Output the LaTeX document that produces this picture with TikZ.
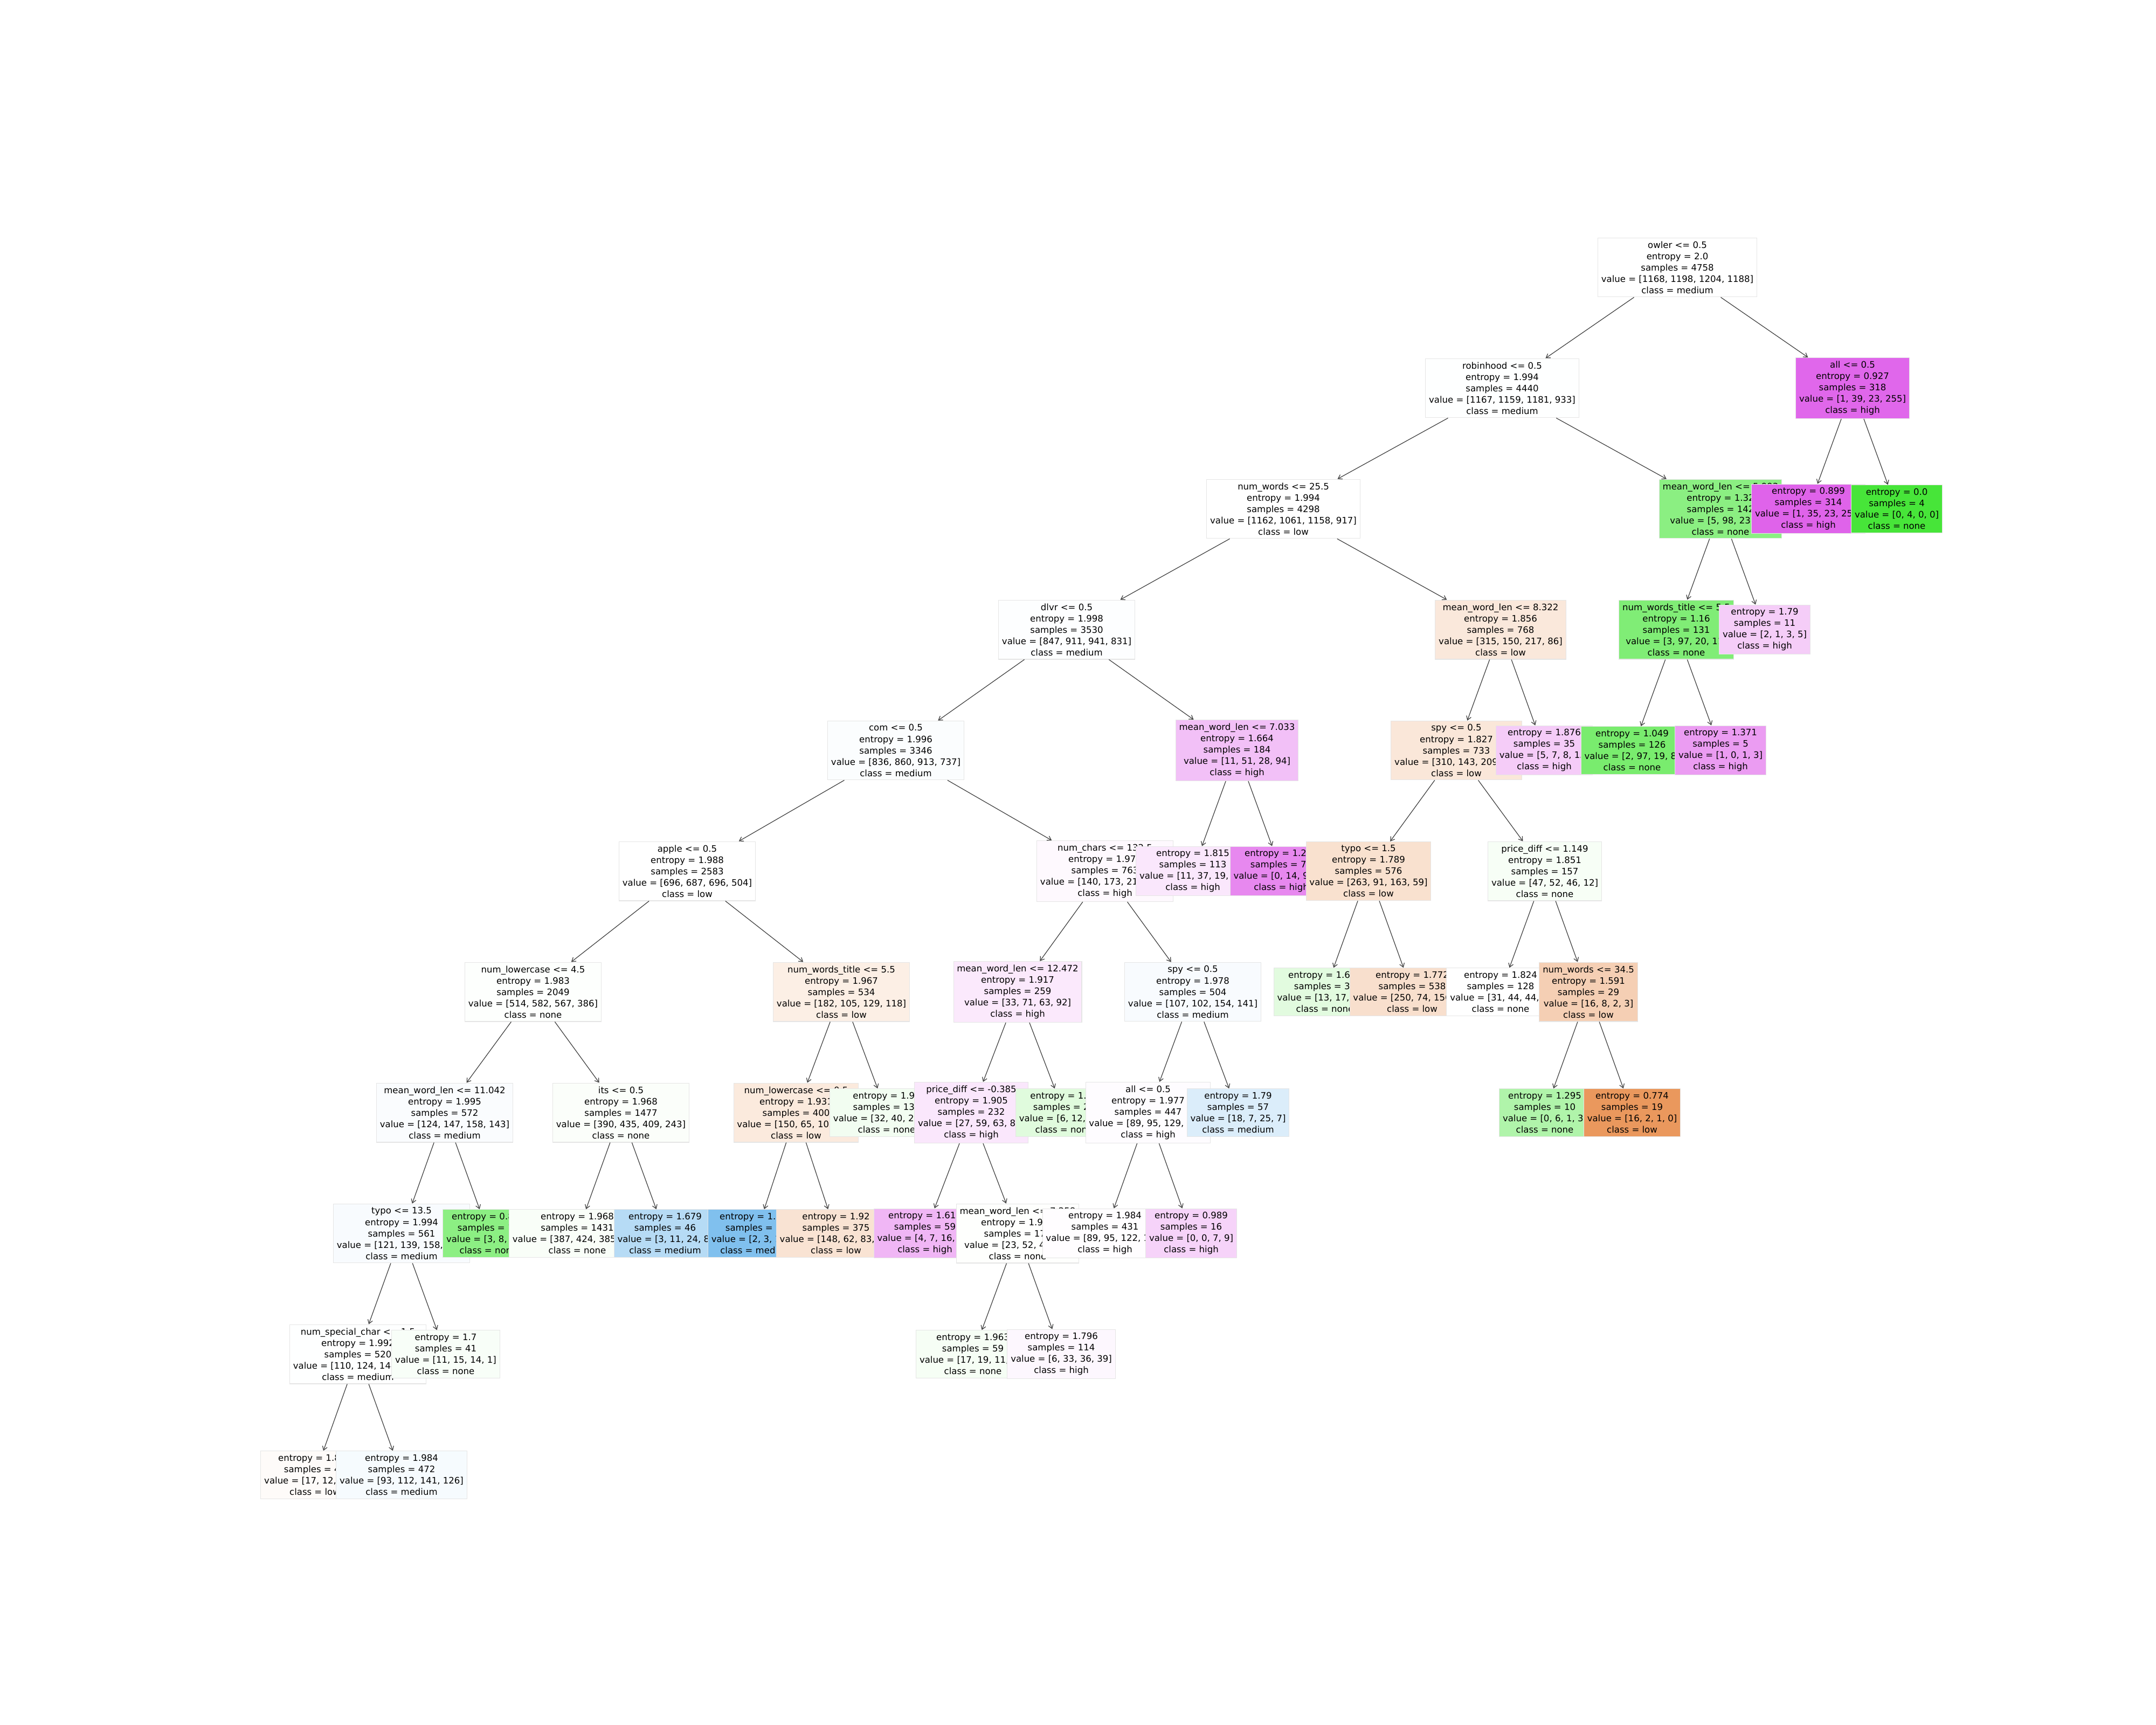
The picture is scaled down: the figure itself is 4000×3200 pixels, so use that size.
\documentclass[tikz,border=0pt]{standalone}
\usepackage{fontspec}
\setmainfont{DejaVu Sans}
\usepackage{xcolor}
\definecolor{lowc}{RGB}{229,129,57}
\definecolor{nonec}{RGB}{71,229,57}
\definecolor{medc}{RGB}{57,157,229}
\definecolor{highc}{RGB}{215,57,229}
\usepackage{tikz}
\usetikzlibrary{arrows.meta}

\newcommand{\treefont}{\fontsize{4.7pt}{5.98pt}\selectfont}

\tikzset{
  treebox/.style={draw=black!10, line width=0.3pt, inner xsep=1.8pt, inner ysep=1.85pt,
                  align=center, font=\treefont},
  treearrow/.style={black!75, line width=0.35pt, -{Straight Barb[length=2pt,width=2.6pt]}}
}

\begin{document}
\begin{tikzpicture}[x=0.01cm, y=-0.01cm]
\useasboundingbox (0,0) rectangle (4000,3200);

% --- depth 0 ---
\node[treebox, fill=medc!0] (owler) at (3112,496) {owler <= 0.5\\entropy = 2.0\\samples = 4758\\value = [1168, 1198, 1204, 1188]\\class = medium};

% --- depth 1 ---
\node[treebox, fill=medc!0.4] (robinhood) at (2787,720) {robinhood <= 0.5\\entropy = 1.994\\samples = 4440\\value = [1167, 1159, 1181, 933]\\class = medium};
\node[treebox, fill=highc!77] (allA) at (3437,720) {all <= 0.5\\entropy = 0.927\\samples = 318\\value = [1, 39, 23, 255]\\class = high};
\draw[treearrow] (owler) -- (robinhood);
\draw[treearrow] (owler) -- (allA);

% --- depth 2 ---
\node[treebox, fill=lowc!0.1] (numwordsA) at (2381,944) {num\_words <= 25.5\\entropy = 1.994\\samples = 4298\\value = [1162, 1061, 1158, 917]\\class = low};
\node[treebox, fill=nonec!63] (meanlenA) at (3192,944) {mean\_word\_len <= 5.993\\entropy = 1.32\\samples = 142\\value = [5, 98, 23, 16]\\class = none};
\node[treebox, fill=highc!79] (leafA) at (3355,944) {entropy = 0.899\\samples = 314\\value = [1, 35, 23, 255]\\class = high};
\node[treebox, fill=nonec!100] (leafB) at (3519,944) {entropy = 0.0\\samples = 4\\value = [0, 4, 0, 0]\\class = none};
\draw[treearrow] (robinhood) -- (numwordsA);
\draw[treearrow] (robinhood) -- (meanlenA);
\draw[treearrow] (allA) -- (leafA);
\draw[treearrow] (allA) -- (leafB);

% --- depth 3 ---
\node[treebox, fill=medc!1.1] (dlvr) at (1979,1168) {dlvr <= 0.5\\entropy = 1.998\\samples = 3530\\value = [847, 911, 941, 831]\\class = medium};
\node[treebox, fill=lowc!18] (meanlenB) at (2784,1168) {mean\_word\_len <= 8.322\\entropy = 1.856\\samples = 768\\value = [315, 150, 217, 86]\\class = low};
\node[treebox, fill=nonec!69] (titleA) at (3110,1168) {num\_words\_title <= 5.5\\entropy = 1.16\\samples = 131\\value = [3, 97, 20, 11]\\class = none};
\node[treebox, fill=highc!25] (leafC) at (3274,1168) {entropy = 1.79\\samples = 11\\value = [2, 1, 3, 5]\\class = high};
\draw[treearrow] (numwordsA) -- (dlvr);
\draw[treearrow] (numwordsA) -- (meanlenB);
\draw[treearrow] (meanlenA) -- (titleA);
\draw[treearrow] (meanlenA) -- (leafC);

% --- depth 4 ---
\node[treebox, fill=medc!2.1] (com) at (1662,1392) {com <= 0.5\\entropy = 1.996\\samples = 3346\\value = [836, 860, 913, 737]\\class = medium};
\node[treebox, fill=highc!32] (meanlenC) at (2295,1392) {mean\_word\_len <= 7.033\\entropy = 1.664\\samples = 184\\value = [11, 51, 28, 94]\\class = high};
\node[treebox, fill=lowc!19] (spyA) at (2702,1392) {spy <= 0.5\\entropy = 1.827\\samples = 733\\value = [310, 143, 209, 71]\\class = low};
\node[treebox, fill=highc!26] (leafD) at (2865,1392) {entropy = 1.876\\samples = 35\\value = [5, 7, 8, 15]\\class = high};
\node[treebox, fill=nonec!73] (leafE) at (3028,1392) {entropy = 1.049\\samples = 126\\value = [2, 97, 19, 8]\\class = none};
\node[treebox, fill=highc!50] (leafF) at (3192,1392) {entropy = 1.371\\samples = 5\\value = [1, 0, 1, 3]\\class = high};
\draw[treearrow] (dlvr) -- (com);
\draw[treearrow] (dlvr) -- (meanlenC);
\draw[treearrow] (meanlenB) -- (spyA);
\draw[treearrow] (meanlenB) -- (leafD);
\draw[treearrow] (titleA) -- (leafE);
\draw[treearrow] (titleA) -- (leafF);

% --- depth 5 ---
\node[treebox, fill=lowc!0] (apple) at (1275,1616) {apple <= 0.5\\entropy = 1.988\\samples = 2583\\value = [696, 687, 696, 504]\\class = low};
\node[treebox, fill=highc!2.9] (numchars) at (2050,1616) {num\_chars <= 132.5\\entropy = 1.973\\samples = 763\\value = [140, 173, 217, 233]\\class = high};
\node[treebox, fill=highc!12] (leafG) at (2213,1616) {entropy = 1.815\\samples = 113\\value = [11, 37, 19, 46]\\class = high};
\node[treebox, fill=highc!60] (leafH) at (2377,1616) {entropy = 1.221\\samples = 71\\value = [0, 14, 9, 48]\\class = high};
\node[treebox, fill=lowc!24] (typoA) at (2539,1616) {typo <= 1.5\\entropy = 1.789\\samples = 576\\value = [263, 91, 163, 59]\\class = low};
\node[treebox, fill=nonec!4.5] (priceA) at (2866,1616) {price\_diff <= 1.149\\entropy = 1.851\\samples = 157\\value = [47, 52, 46, 12]\\class = none};
\draw[treearrow] (com) -- (apple);
\draw[treearrow] (com) -- (numchars);
\draw[treearrow] (meanlenC) -- (leafG);
\draw[treearrow] (meanlenC) -- (leafH);
\draw[treearrow] (spyA) -- (typoA);
\draw[treearrow] (spyA) -- (priceA);

% --- depth 6 ---
\node[treebox, fill=nonec!1] (lowerA) at (989,1840) {num\_lowercase <= 4.5\\entropy = 1.983\\samples = 2049\\value = [514, 582, 567, 386]\\class = none};
\node[treebox, fill=lowc!13] (titleB) at (1561,1840) {num\_words\_title <= 5.5\\entropy = 1.967\\samples = 534\\value = [182, 105, 129, 118]\\class = low};
\node[treebox, fill=highc!11] (meanlenD) at (1888,1840) {mean\_word\_len <= 12.472\\entropy = 1.917\\samples = 259\\value = [33, 71, 63, 92]\\class = high};
\node[treebox, fill=medc!3.6] (spyB) at (2213,1840) {spy <= 0.5\\entropy = 1.978\\samples = 504\\value = [107, 102, 154, 141]\\class = medium};
\node[treebox, fill=nonec!16] (leafI) at (2458,1840) {entropy = 1.636\\samples = 38\\value = [13, 17, 7, 1]\\class = none};
\node[treebox, fill=lowc!25] (leafJ) at (2620,1840) {entropy = 1.772\\samples = 538\\value = [250, 74, 156, 58]\\class = low};
\node[treebox, fill=white] (leafK) at (2784,1840) {entropy = 1.824\\samples = 128\\value = [31, 44, 44, 9]\\class = none};
\node[treebox, fill=lowc!38] (numwordsB) at (2947,1840) {num\_words <= 34.5\\entropy = 1.591\\samples = 29\\value = [16, 8, 2, 3]\\class = low};
\draw[treearrow] (apple) -- (lowerA);
\draw[treearrow] (apple) -- (titleB);
\draw[treearrow] (numchars) -- (meanlenD);
\draw[treearrow] (numchars) -- (spyB);
\draw[treearrow] (typoA) -- (leafI);
\draw[treearrow] (typoA) -- (leafJ);
\draw[treearrow] (priceA) -- (leafK);
\draw[treearrow] (priceA) -- (numwordsB);

% --- depth 7 ---
\node[treebox, fill=medc!2.6] (meanlenE) at (825,2064) {mean\_word\_len <= 11.042\\entropy = 1.995\\samples = 572\\value = [124, 147, 158, 143]\\class = medium};
\node[treebox, fill=nonec!2.4] (its) at (1152,2064) {its <= 0.5\\entropy = 1.968\\samples = 1477\\value = [390, 435, 409, 243]\\class = none};
\node[treebox, fill=lowc!17] (lowerB) at (1477,2064) {num\_lowercase <= 0.5\\entropy = 1.931\\samples = 400\\value = [150, 65, 100, 85]\\class = low};
\node[treebox, fill=nonec!7] (leafL) at (1645,2064) {entropy = 1.99\\samples = 134\\value = [32, 40, 29, 33]\\class = none};
\node[treebox, fill=highc!12] (priceB) at (1802,2064) {price\_diff <= -0.385\\entropy = 1.905\\samples = 232\\value = [27, 59, 63, 83]\\class = high};
\node[treebox, fill=nonec!17] (leafM) at (1974,2064) {entropy = 1.53\\samples = 27\\value = [6, 12, 0, 9]\\class = none};
\node[treebox, fill=highc!1.6] (allB) at (2130,2064) {all <= 0.5\\entropy = 1.977\\samples = 447\\value = [89, 95, 129, 134]\\class = high};
\node[treebox, fill=medc!18] (leafN) at (2297,2064) {entropy = 1.79\\samples = 57\\value = [18, 7, 25, 7]\\class = medium};
\node[treebox, fill=nonec!43] (leafO) at (2866,2064) {entropy = 1.295\\samples = 10\\value = [0, 6, 1, 3]\\class = none};
\node[treebox, fill=lowc!82] (leafP) at (3028,2064) {entropy = 0.774\\samples = 19\\value = [16, 2, 1, 0]\\class = low};
\draw[treearrow] (lowerA) -- (meanlenE);
\draw[treearrow] (lowerA) -- (its);
\draw[treearrow] (titleB) -- (lowerB);
\draw[treearrow] (titleB) -- (leafL);
\draw[treearrow] (meanlenD) -- (priceB);
\draw[treearrow] (meanlenD) -- (leafM);
\draw[treearrow] (spyB) -- (allB);
\draw[treearrow] (spyB) -- (leafN);
\draw[treearrow] (numwordsB) -- (leafO);
\draw[treearrow] (numwordsB) -- (leafP);

% --- depth 8 ---
\node[treebox, fill=medc!3.6] (typoB) at (745,2288) {typo <= 13.5\\entropy = 1.994\\samples = 561\\value = [121, 139, 158, 143]\\class = medium};
\node[treebox, fill=nonec!62.5] (leafQ) at (906,2288) {entropy = 0.845\\samples = 11\\value = [3, 8, 0, 0]\\class = none};
\node[treebox, fill=nonec!3.5] (leafR) at (1071,2288) {entropy = 1.968\\samples = 1431\\value = [387, 424, 385, 235]\\class = none};
\node[treebox, fill=medc!37] (leafS) at (1234,2288) {entropy = 1.679\\samples = 46\\value = [3, 11, 24, 8]\\class = medium};
\node[treebox, fill=medc!64] (leafT) at (1403,2288) {entropy = 1.404\\samples = 25\\value = [2, 3, 17, 3]\\class = medium};
\node[treebox, fill=lowc!22] (leafU) at (1551,2288) {entropy = 1.92\\samples = 375\\value = [148, 62, 83, 82]\\class = low};
\node[treebox, fill=highc!37] (leafV) at (1716,2288) {entropy = 1.617\\samples = 59\\value = [4, 7, 16, 32]\\class = high};
\node[treebox, fill=nonec!0.8] (meanlenF) at (1888,2288) {mean\_word\_len <= 7.258\\entropy = 1.939\\samples = 173\\value = [23, 52, 47, 51]\\class = none};
\node[treebox, fill=highc!1] (leafW) at (2050,2288) {entropy = 1.984\\samples = 431\\value = [89, 95, 122, 125]\\class = high};
\node[treebox, fill=highc!22] (leafX) at (2210,2288) {entropy = 0.989\\samples = 16\\value = [0, 0, 7, 9]\\class = high};
\draw[treearrow] (meanlenE) -- (typoB);
\draw[treearrow] (meanlenE) -- (leafQ);
\draw[treearrow] (its) -- (leafR);
\draw[treearrow] (its) -- (leafS);
\draw[treearrow] (lowerB) -- (leafT);
\draw[treearrow] (lowerB) -- (leafU);
\draw[treearrow] (priceB) -- (leafV);
\draw[treearrow] (priceB) -- (meanlenF);
\draw[treearrow] (allB) -- (leafW);
\draw[treearrow] (allB) -- (leafX);

% --- depth 9 ---
\node[treebox, fill=medc!0.5] (specialA) at (664,2512) {num\_special\_char <= 1.5\\entropy = 1.992\\samples = 520\\value = [110, 124, 144, 142]\\class = medium};
\node[treebox, fill=nonec!3.7] (leafY) at (827,2512) {entropy = 1.7\\samples = 41\\value = [11, 15, 14, 1]\\class = none};
\node[treebox, fill=nonec!4.8] (leafZ) at (1805,2512) {entropy = 1.963\\samples = 59\\value = [17, 19, 11, 12]\\class = none};
\node[treebox, fill=highc!3.8] (leafAA) at (1969,2512) {entropy = 1.796\\samples = 114\\value = [6, 33, 36, 39]\\class = high};
\draw[treearrow] (typoB) -- (specialA);
\draw[treearrow] (typoB) -- (leafY);
\draw[treearrow] (meanlenF) -- (leafZ);
\draw[treearrow] (meanlenF) -- (leafAA);

% --- depth 10 ---
\node[treebox, fill=lowc!3.1] (leafAB) at (584,2736) {entropy = 1.809\\samples = 48\\value = [17, 12, 3, 16]\\class = low};
\node[treebox, fill=medc!4.3] (leafAC) at (745,2736) {entropy = 1.984\\samples = 472\\value = [93, 112, 141, 126]\\class = medium};
\draw[treearrow] (specialA) -- (leafAB);
\draw[treearrow] (specialA) -- (leafAC);

\end{tikzpicture}
\end{document}
